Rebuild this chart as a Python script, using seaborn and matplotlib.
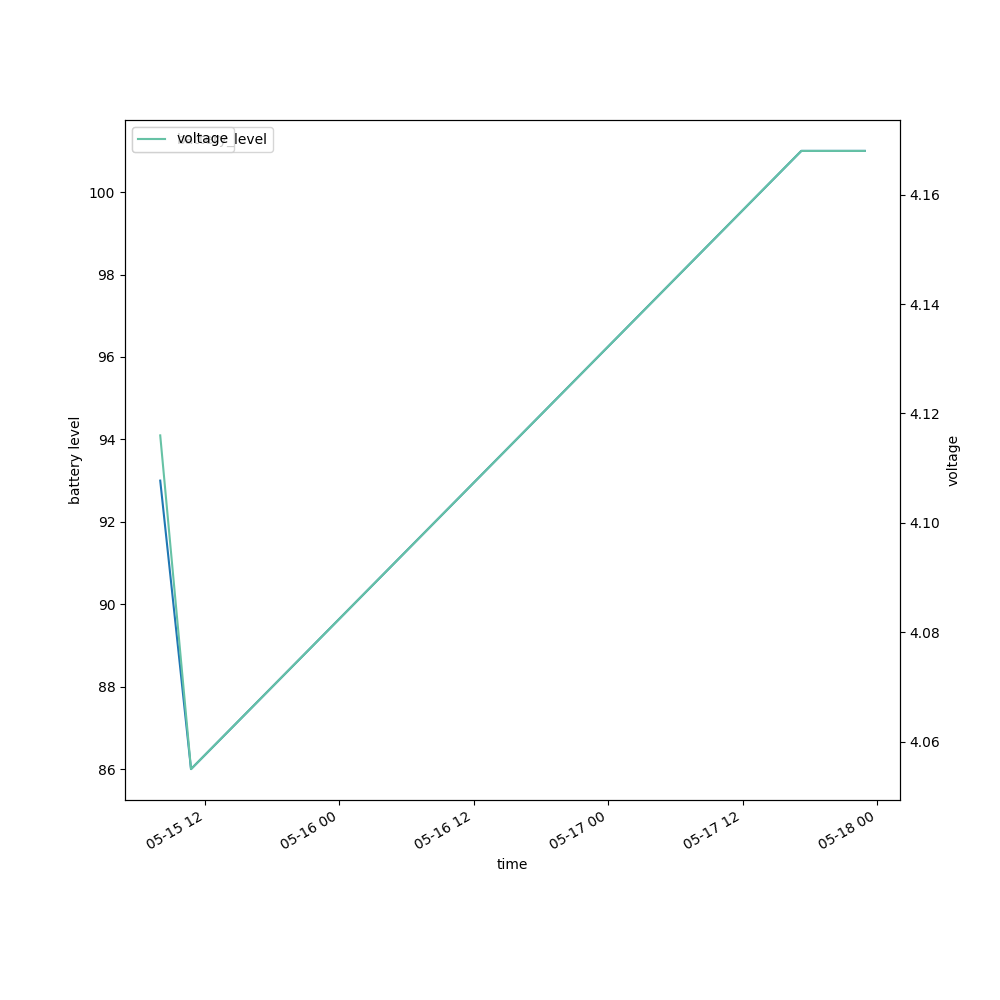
import pandas as pd
import matplotlib
matplotlib.use("Agg")
import matplotlib.pyplot as plt
import seaborn as sns

times = pd.to_datetime([
    "2023-05-15 08:00",
    "2023-05-15 10:45",
    "2023-05-17 17:15",
    "2023-05-17 22:55",
])
battery_level = [93, 86, 101, 101]
voltage = [4.116, 4.055, 4.168, 4.168]

df = pd.DataFrame({"time": times, "battery_level": battery_level, "voltage": voltage})

fig, ax1 = plt.subplots(figsize=(10, 10), dpi=100)
sns.lineplot(data=df, x="time", y="battery_level", ax=ax1, color="#1f77b4", label="battery_level")
ax1.set_ylabel("battery level")
ax1.set_xlabel("time")
ax1.legend(loc="upper left")

ax2 = ax1.twinx()
sns.lineplot(data=df, x="time", y="voltage", ax=ax2, color="#66c2a5", label="voltage")
ax2.set_ylabel("voltage")
ax2.legend(loc="upper left")

fig.autofmt_xdate()
fig.savefig("out.png")
